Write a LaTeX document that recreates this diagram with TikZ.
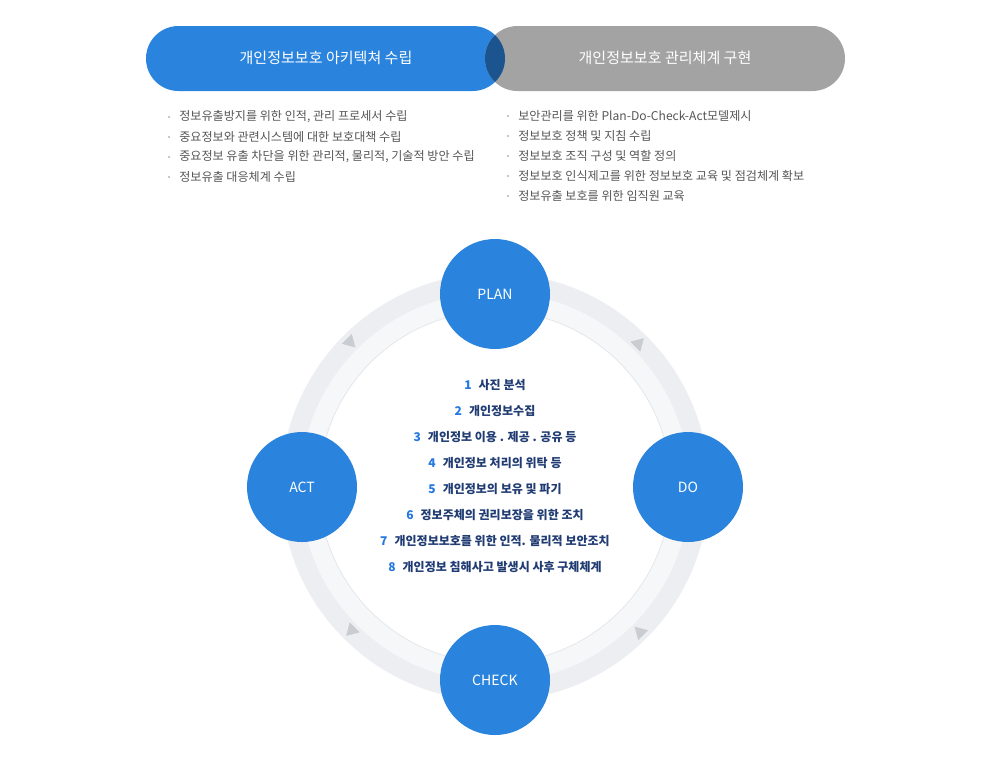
\documentclass[tikz,border=0pt]{standalone}
\usepackage{fontspec}
\setmainfont{Noto Sans CJK KR}
\definecolor{pdcablue}{HTML}{2A84DE}
\definecolor{pillgray}{HTML}{A3A3A3}
\definecolor{overlapblue}{HTML}{1B548E}
\definecolor{bodygray}{HTML}{555555}
\definecolor{dotgray}{HTML}{B4B4B4}
\definecolor{bandouter}{HTML}{ECEEF1}
\definecolor{bandinner}{HTML}{F6F7F9}
\definecolor{bandline}{HTML}{E2E5E9}
\definecolor{tipgray}{HTML}{C9CCD1}
\definecolor{numblue}{HTML}{2479E0}
\definecolor{itemnavy}{HTML}{203C73}

\begin{document}
\begin{tikzpicture}[
  x=0.25mm,
  y=-0.25mm,
  pill/.style={rounded corners=8.125mm},
  pilltitle/.style={text=white, inner sep=0pt, font=\fontsize{10.7}{13}\selectfont},
  bulletitem/.style={anchor=west, inner sep=0pt, text=bodygray, font=\fontsize{8.6}{10}\selectfont},
  bulletdot/.style={fill=dotgray},
  phase/.style={
    circle,
    fill=pdcablue,
    minimum size=27.5mm,
    inner sep=0pt,
    text=white,
    font=\fontsize{10}{12}\selectfont
  },
  ringtip/.style={fill=tipgray},
  listitem/.style={inner sep=0pt, text=itemnavy, font=\bfseries\fontsize{8.55}{10}\selectfont}
]
\useasboundingbox (0,0) rectangle (990,757);

% ---------------------------------------------------------------------------
% Top: two overlapping pills
% ---------------------------------------------------------------------------
\fill[pill, pdcablue] (146,26) rectangle (505,91);
\fill[pill, pillgray] (485,26) rectangle (845,91);
\begin{scope}
  \clip[pill] (146,26) rectangle (505,91);
  \fill[pill, overlapblue] (485,26) rectangle (845,91);
\end{scope}
\node[pilltitle] (archtitle) at (326,58) {개인정보보호 아키텍쳐 수립};
\node[pilltitle] (mgmttitle) at (665,58) {개인정보보호 관리체계 구현};

% Bullet lists under the pills.
\foreach \txt [count=\i] in {
  {정보유출방지를 위한 인적, 관리 프로세서 수립},
  {중요정보와 관련시스템에 대한 보호대책 수립},
  {중요정보 유출 차단을 위한 관리적, 물리적, 기술적 방안 수립},
  {정보유출 대응체계 수립}} {
  \node[bulletitem] (arch\i) at (179,{117+20*(\i-1)}) {\txt};
  \fill[bulletdot] (arch\i.west) ++(-10,0) circle (0.3mm);
}
\foreach \txt [count=\i] in {
  {보안관리를 위한 Plan-Do-Check-Act모델제시},
  {정보보호 정책 및 지침 수립},
  {정보보호 조직 구성 및 역할 정의},
  {정보보호 인식제고를 위한 정보보호 교육 및 점검체계 확보},
  {정보유출 보호를 위한 임직원 교육}} {
  \node[bulletitem] (mgmt\i) at (518,{116+20*(\i-1)}) {\txt};
  \fill[bulletdot] (mgmt\i.west) ++(-10,0) circle (0.3mm);
}

% ---------------------------------------------------------------------------
% PDCA ring
% ---------------------------------------------------------------------------
\begin{scope}[shift={(495,487)}]
  \fill[bandouter] (0,0) circle (53.5mm);
  \fill[bandinner] (0,0) circle (48.75mm);
  \fill[white] (0,0) circle (44mm);
  \draw[bandline, line width=0.5pt] (0,0) circle (44mm);
  \foreach \a in {-45,-135,135,45}
    \fill[ringtip, shift={(\a:204)}, rotate=\a+90] (6.5,0) -- (-5.5,7) -- (-5.5,-7) -- cycle;

  \node[phase] (plan) at (0,-193) {PLAN};
  \node[phase] (do) at (193,0) {DO};
  \node[phase] (check) at (0,193) {CHECK};
  \node[phase] (act) at (-193,0) {ACT};
\end{scope}

% Steps in the middle of the ring.
\foreach \txt [count=\n] in {
  {사진 분석},
  {개인정보수집},
  {개인정보 이용 . 제공 . 공유 등},
  {개인정보 처리의 위탁 등},
  {개인정보의 보유 및 파기},
  {정보주체의 권리보장을 위한 조치},
  {개인정보보호를 위한 인적. 물리적 보안조치},
  {개인정보 침해사고 발생시 사후 구체체계}}
  \node[listitem] (item\n) at (495,{385+26*(\n-1)}) {\textcolor{numblue}{\n}\hspace{5pt}\txt};

\end{tikzpicture}
\end{document}
